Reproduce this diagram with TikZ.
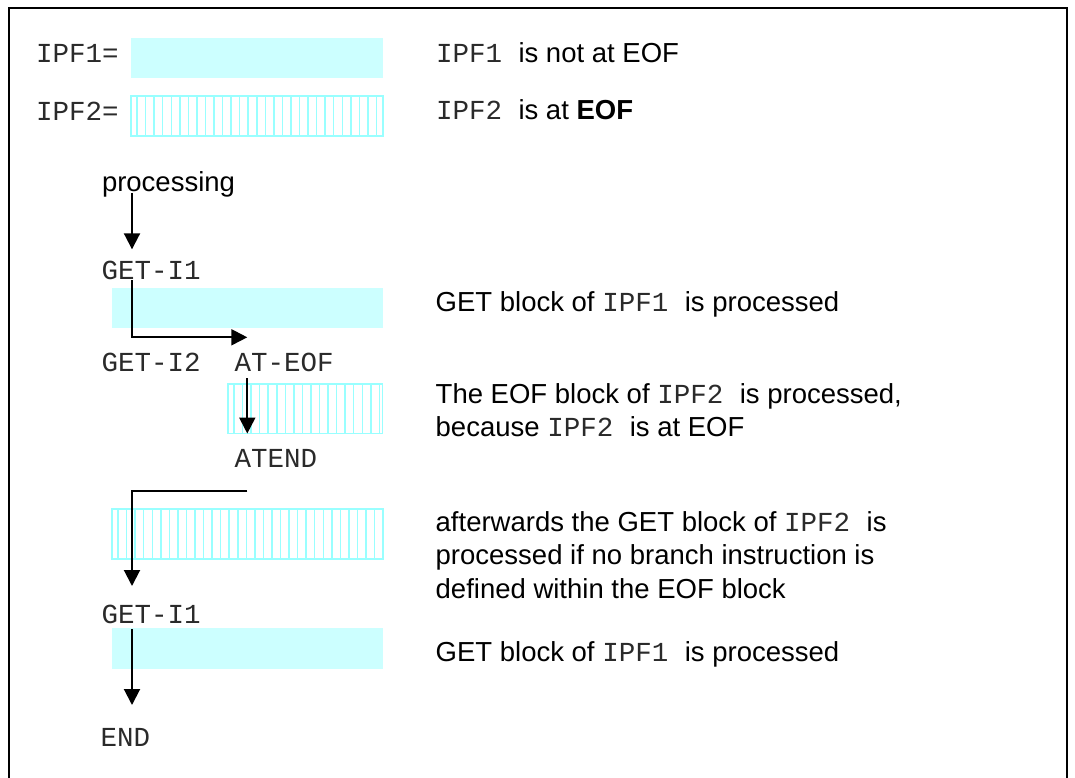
\documentclass[tikz,border=0pt]{standalone}
\usepackage{fontspec}
\setmainfont{Liberation Sans}
\setmonofont{Liberation Mono}
\usetikzlibrary{arrows.meta,calc}
\definecolor{barfill}{HTML}{CCFFFF}
\definecolor{barline}{HTML}{99FFFF}
\definecolor{codegray}{HTML}{2A2A2A}
\begin{document}
\begin{tikzpicture}[x=1pt,y=-1pt,
  every node/.style={inner sep=0pt, outer sep=0pt, font=\fontsize{27.5}{33.15}\selectfont},
  mono/.style={anchor=base west, text=codegray, font=\fontsize{27.5}{33.15}\selectfont\ttfamily},
  note/.style={anchor=base west, align=left},
  solidbar/.style={fill=barfill},
  hatchbar/.style={draw=barline, line width=1.5pt,
    path picture={
      \foreach \k in {1,...,40}{
        \draw[barline, line width=1.5pt]
          ([xshift=\k*8.55pt-2.5pt]path picture bounding box.north west) --
          ([xshift=\k*8.55pt-2.5pt]path picture bounding box.south west);
      }}},
  arr/.style={line width=2pt, -{Triangle[length=16pt,width=16pt]}}
]
\useasboundingbox (0,0) rectangle (1075,778);

% outer frame (runs off the lower edge)
\draw[line width=2.4pt] (9,778) -- (9,8) -- (1067,8) -- (1067,778);

% legend
\node[mono] (ipf1) at (36,63) {IPF1=};
\node[mono] (ipf2) at (36,121) {IPF2=};
\node[solidbar, minimum width=252pt, minimum height=40pt] (bar1) at (257,58) {};
\node[hatchbar, minimum width=252pt, minimum height=40pt] (bar2) at (257,116) {};
\node[note] (leg1) at (436,63) {\texttt{\color{codegray}IPF1 }is not at EOF};
\node[note] (leg2) at (436,120) {\texttt{\color{codegray}IPF2 }is at \textbf{EOF}};

% flow
\coordinate (laneA) at (132,0);
\coordinate (laneB) at (247.3,0);

\node[note] (proc) at (102,191.7) {processing};
\node[mono] (g1a) at (101.5,279) {GET-I1};
\node[solidbar, minimum width=271pt, minimum height=40pt] (bar3) at (247.5,308) {};
\node[mono] (g2) at (101.5,371.7) {GET-I2};
\node[mono] (aeof) at (234.5,371.7) {AT-EOF};
\node[hatchbar, minimum width=154.5pt, minimum height=49.5pt] (bar4) at (305.2,408.8) {};
\node[mono] (atend) at (234.5,467.3) {ATEND};
\node[hatchbar, minimum width=271pt, minimum height=50pt] (bar5) at (247.5,534.2) {};
\node[mono] (g1b) at (101.5,623.3) {GET-I1};
\node[solidbar, minimum width=271pt, minimum height=40.5pt] (bar6) at (247.5,648.5) {};
\node[mono] (endn) at (100.5,746) {END};

% descriptions (base anchor sits on the last line)
\node[note] (d1) at (435.7,311.7) {GET block of \texttt{\color{codegray}IPF1 }is processed};
\node[note] (d2) at (435.7,436.5) {The EOF block of \texttt{\color{codegray}IPF2 }is processed,\\because \texttt{\color{codegray}IPF2 }is at EOF};
\node[note] (d3) at (435.7,598) {afterwards the GET block of \texttt{\color{codegray}IPF2 }is\\processed if no branch instruction is\\defined within the EOF block};
\node[note] (d4) at (435.7,661) {GET block of \texttt{\color{codegray}IPF1 }is processed};

% connectors
\draw[arr] ($(proc.base -| laneA)+(0,1.5)$) -- ($(g1a.base -| laneA)+(0,-29.7)$);
\draw[arr] ($(g1a.base -| laneA)+(0,1)$) |- ($(bar3.south -| laneB)+(0,9.3)$);
\draw[arr] ($(aeof.base -| laneB)+(0,6.6)$) -- (bar4.south -| laneB);
\draw[arr] ($(atend.base -| laneB)+(0,23.7)$) -| ($(g1b.base -| laneA)+(0,-37.3)$);
\draw[arr] ($(g1b.base -| laneA)+(0,6)$) -- ($(endn.base -| laneA)+(0,-41)$);
\end{tikzpicture}
\end{document}
